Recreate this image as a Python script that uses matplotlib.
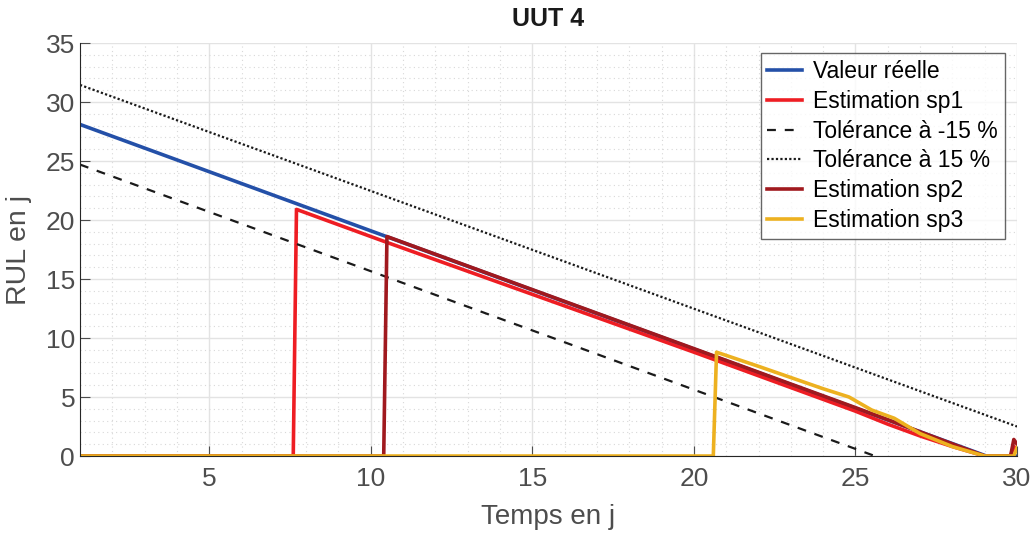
import numpy as np
import matplotlib.pyplot as plt
from matplotlib.ticker import MultipleLocator

plt.rcParams['font.family'] = ['Liberation Sans', 'DejaVu Sans']

# real RUL and tolerance bounds
t_real = [1, 29.05, 30]
v_real = [28.1, 0, 0]
t_tol_lo = [1, 25.6]
v_tol_lo = [24.7, 0]
t_tol_hi = [1, 30]
v_tol_hi = [31.45, 2.5]

# estimations
t_sp1 = [1, 7.6, 7.7, 10.4, 15, 20, 24, 25, 26, 27, 28, 29, 29.8, 29.9, 30]
v_sp1 = [0, 0, 20.9, 18.2, 13.7, 8.8, 4.8, 3.8, 2.7, 1.7, 0.8, 0, 0, 0.8, 0.5]
t_sp2 = [1, 10.4, 10.5, 15, 20, 25, 29, 29.8, 29.9, 30]
v_sp2 = [0, 0, 18.6, 14.1, 9.1, 4.1, 0, 0, 1.4, 1.0]
t_sp3 = [1, 20.6, 20.7, 22, 24, 24.8, 25.5, 26.2, 27, 28, 29, 29.9, 30]
v_sp3 = [0, 0, 8.8, 7.6, 5.7, 5.0, 3.9, 3.2, 1.9, 0.8, 0, 0, 0.7]

fig = plt.figure(figsize=(10.36, 5.37), dpi=100)
ax = fig.add_axes([0.0772, 0.1508, 0.9045, 0.7691])

ax.plot(t_real, v_real, color='#2450a8', lw=2.6, label='Valeur réelle')
ax.plot(t_sp1, v_sp1, color='#ee1d23', lw=2.6, label='Estimation sp1')
ax.plot(t_tol_lo, v_tol_lo, color='#1a1a1a', lw=1.6, ls=(0, (4, 4)), label='Tolérance à -15 %')
ax.plot(t_tol_hi, v_tol_hi, color='#1a1a1a', lw=1.6, ls=(0, (1, 1)), label='Tolérance à 15 %')
ax.plot(t_sp2, v_sp2, color='#a0191e', lw=2.6, label='Estimation sp2')
ax.plot(t_sp3, v_sp3, color='#edb120', lw=2.6, label='Estimation sp3')

ax.set_xlim(1, 30)
ax.set_ylim(0, 35)
ax.xaxis.set_major_locator(MultipleLocator(5))
ax.xaxis.set_minor_locator(MultipleLocator(1))
ax.yaxis.set_major_locator(MultipleLocator(5))
ax.yaxis.set_minor_locator(MultipleLocator(1))
ax.grid(which='major', color='#e3e3e3', lw=1)
ax.grid(which='minor', color='#d8d8d8', lw=0.8, ls=(0, (1, 3)))
ax.set_axisbelow(True)

for s in ['top', 'right']:
    ax.spines[s].set_visible(False)
for s in ['left', 'bottom']:
    ax.spines[s].set_color('#262626')
ax.tick_params(which='both', direction='in', colors='#4d4d4d', labelsize=19)
ax.tick_params(which='major', length=7)
ax.tick_params(which='minor', length=0)
ax.tick_params(axis='x', pad=8)

ax.set_xlabel('Temps en j', fontsize=20, color='#4d4d4d', labelpad=9)
ax.set_ylabel('RUL en j', fontsize=20.5, color='#4d4d4d', labelpad=10)
ax.set_title('UUT 4', fontsize=18, fontweight='bold', color='#1a1a1a', pad=12)

leg = ax.legend(loc='upper right', fontsize=16.5, frameon=True, fancybox=False,
                edgecolor='#404040', handlelength=1.5, handletextpad=0.5,
                borderpad=0.3, labelspacing=0.3, borderaxespad=0,
                bbox_to_anchor=(0.987, 0.976))
leg.get_frame().set_linewidth(1)

fig.savefig('out.png', dpi=100)
